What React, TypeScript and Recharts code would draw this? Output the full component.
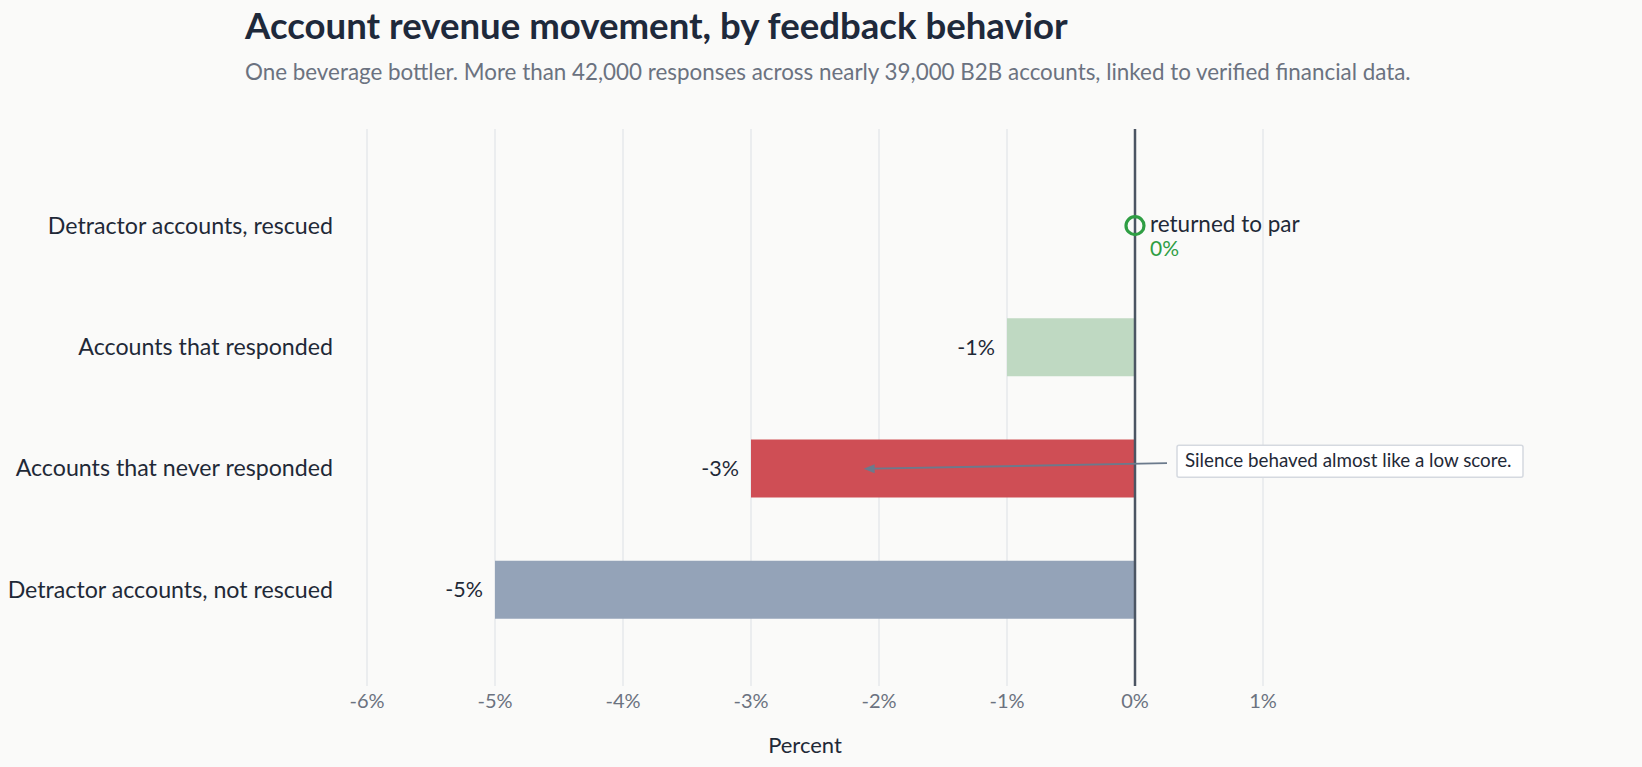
import { BarChart, Bar, XAxis, YAxis, CartesianGrid, ReferenceLine, ReferenceDot, LabelList, Cell } from 'recharts'

const FONT = 'Lato, "Noto Sans", sans-serif'

const CATEGORIES = [
  'Detractor accounts, rescued',
  'Accounts that responded',
  'Accounts that never responded',
  'Detractor accounts, not rescued',
]
const MOVEMENT = [0, -1, -3, -5]
const BAR_COLORS = ['#2f9e44', '#bfd9c2', '#cf4e55', '#94a3b8']
const X_TICKS = [-6, -5, -4, -3, -2, -1, 0, 1]
const NOTE = 'Silence behaved almost like a low score.'
const NOTE_FROM = 0.25
const NOTE_TO = -2.12

const data = CATEGORIES.map((category, i) => ({ category, value: MOVEMENT[i] }))

const renderValueLabel = (props: any) => {
  const { x, y, width, height, value } = props
  if (!value) return null
  const left = Math.min(Number(x), Number(x) + Number(width))
  return (
    <text
      x={left - 12}
      y={Number(y) + Number(height) / 2}
      dy="0.36em"
      textAnchor="end"
      fontSize={21.5}
      fill="#1f2937"
      fontFamily={FONT}
    >
      {`${value}%`}
    </text>
  )
}

// hollow marker for the rescued accounts sitting at 0
const ParMarker = (props: any) => {
  const { cx, cy } = props
  return (
    <g>
      <circle cx={cx} cy={cy} r={9} fill="none" stroke="#2f9e44" strokeWidth={3.2} />
      <text x={cx + 15} y={cy + 6} fontSize={22.5} fill="#1f2937" fontFamily={FONT}>
        returned to par
      </text>
      <text x={cx + 15} y={cy + 30.5} fontSize={21} fill="#2f9e44" fontFamily={FONT}>
        {`${MOVEMENT[0]}%`}
      </text>
    </g>
  )
}

const NoteArrow = (props: any) => {
  const { x1, y1, x2, y2 } = props
  const sy = y1 - 5
  const ty = y2 + 0.5
  return (
    <g>
      <line x1={x1} y1={sy} x2={x2 + 8} y2={ty} stroke="#6b7a8c" strokeWidth={2} />
      <polygon points={`${x2},${ty} ${x2 + 11},${ty - 4.5} ${x2 + 11},${ty + 4.5}`} fill="#6b7a8c" />
      <rect x={x1 + 10} y={y1 - 23} width={346} height={32} rx={2} fill="#ffffff" stroke="#d5d9e0" strokeWidth={1.5} />
      <text x={x1 + 18} y={y1 - 1} fontSize={18.8} fill="#1f2937" fontFamily={FONT}>
        {NOTE}
      </text>
    </g>
  )
}

export default function App() {
  return (
    <div style={{ position: 'absolute', left: 0, top: 0, width: 1642, height: 767, background: '#fafaf9', fontFamily: FONT }}>
      <div style={{ position: 'absolute', left: 245, top: 7, fontSize: 36.6, lineHeight: '36.6px', fontWeight: 700, color: '#1e293b', whiteSpace: 'nowrap' }}>
        Account revenue movement, by feedback behavior
      </div>
      <div style={{ position: 'absolute', left: 245, top: 61, fontSize: 22.4, lineHeight: '22.4px', color: '#6b7280', whiteSpace: 'nowrap' }}>
        One beverage bottler. More than 42,000 responses across nearly 39,000 B2B accounts, linked to verified financial data.
      </div>
      <div style={{ position: 'absolute', left: 0, top: 0 }}>
        <BarChart
          width={1642}
          height={767}
          data={data}
          layout="vertical"
          margin={{ top: 129, right: 379, bottom: 0, left: 0 }}
          barSize={58}
        >
          <CartesianGrid horizontal={false} stroke="#e6e8eb" strokeWidth={1.5} />
          <XAxis
            type="number"
            domain={[-6, 1]}
            ticks={X_TICKS}
            tickFormatter={(v: number) => `${v}%`}
            axisLine={false}
            tickLine={false}
            tickSize={0}
            tickMargin={8}
            height={81}
            tick={{ fill: '#6b7280', fontSize: 20, fontFamily: FONT }}
            label={{ value: 'Percent', position: 'insideBottom', offset: 14, dx: -10, fill: '#1f2937', fontSize: 22, fontFamily: FONT }}
          />
          <YAxis
            type="category"
            dataKey="category"
            width={367}
            axisLine={false}
            tickLine={false}
            tickSize={0}
            tickMargin={34}
            interval={0}
            padding={{ top: 36, bottom: 36 }}
            tick={{ fill: '#1f2937', fontSize: 23.2, fontFamily: FONT }}
          />
          <Bar dataKey="value" isAnimationActive={false}>
            {data.map((d, i) => (
              <Cell key={d.category} fill={BAR_COLORS[i]} />
            ))}
            <LabelList dataKey="value" content={renderValueLabel} />
          </Bar>
          <ReferenceLine x={0} stroke="#4b5563" strokeWidth={2.5} />
          <ReferenceLine
            segment={[
              { x: NOTE_FROM, y: CATEGORIES[2] },
              { x: NOTE_TO, y: CATEGORIES[2] },
            ]}
            shape={NoteArrow}
          />
          <ReferenceDot x={0} y={CATEGORIES[0]} r={9} shape={ParMarker} />
        </BarChart>
      </div>
    </div>
  )
}
